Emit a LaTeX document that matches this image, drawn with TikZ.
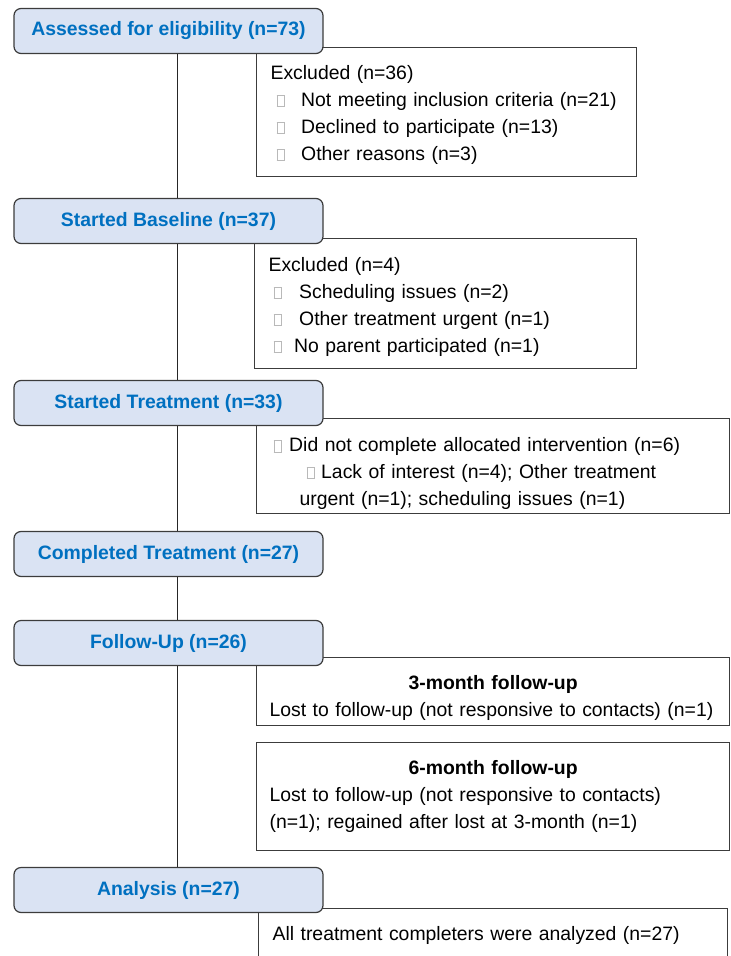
\documentclass[tikz,border=0pt]{standalone}
\usepackage{fontspec}
\setmainfont{Liberation Sans}
\usepackage{tikz}
\usetikzlibrary{arrows.meta}

\definecolor{stageblue}{RGB}{0,112,192}
\definecolor{stagefill}{RGB}{218,227,243}
\definecolor{boxline}{RGB}{60,60,60}
\newcommand{\sqmark}{{\color{gray!55}\setlength{\fboxsep}{0pt}\setlength{\fboxrule}{0.8pt}\fbox{\rule{0pt}{10.5pt}\hspace{7pt}}}}

\begin{document}
\begin{tikzpicture}[x=1pt, y=-1pt,
    stage/.style={draw=boxline, line width=1.2pt, fill=stagefill, rounded corners=7pt,
        minimum width=309pt, minimum height=45pt, inner sep=0pt,
        font=\fontsize{19.4}{24}\selectfont\bfseries, text=stageblue},
    note/.style={draw=boxline, line width=1.2pt, fill=white, anchor=north west,
        inner xsep=14pt, inner ysep=0pt, align=left,
        font=\fontsize{19.4}{26.8}\selectfont},
    link/.style={line width=1pt, black!85}]
    \useasboundingbox (0,0) rectangle (731,956);

    % 右侧说明框
    \node[note, text width=352pt, minimum height=129pt] (excl1) at (256,47) {\rule{0pt}{19.5pt}Excluded (n=36)\\
        \hspace*{6pt}\sqmark\hspace{16pt}Not meeting inclusion criteria (n=21)\\
        \hspace*{6pt}\sqmark\hspace{16pt}Declined to participate (n=13)\\
        \hspace*{6pt}\sqmark\hspace{16pt}Other reasons (n=3)};
    \node[note, text width=354pt, minimum height=130pt] (excl2) at (254,238) {\rule{0pt}{20.5pt}Excluded (n=4)\\
        \hspace*{5pt}\sqmark\hspace{17pt}Scheduling issues (n=2)\\
        \hspace*{5pt}\sqmark\hspace{17pt}Other treatment urgent (n=1)\\
        \hspace*{5pt}\sqmark\hspace{12pt}No parent participated (n=1)};
    \node[note, text width=445pt, minimum height=95pt] (dropout) at (256,418) {\rule{0pt}{28.7pt}\hspace*{3pt}\sqmark\hspace{7pt}Did not complete allocated intervention (n=6)\\
        \hspace*{36pt}\sqmark\hspace{6pt}Lack of interest (n=4); Other treatment\\
        \hspace*{29pt}urgent (n=1); scheduling issues (n=1)};
    \node[note, inner xsep=13pt, text width=447pt, minimum height=68pt] (fu3) at (256,657) {\rule{0pt}{26.9pt}\makebox[\hsize]{\bfseries 3-month follow-up}\\
        Lost to follow-up (not responsive to contacts) (n=1)};
    \node[note, inner xsep=13pt, text width=447pt, minimum height=108pt] (fu6) at (256,742) {\makebox[\hsize]{\bfseries 6-month follow-up}\\
        Lost to follow-up (not responsive to contacts)\\
        (n=1); regained after lost at 3-month (n=1)};
    \node[note, text width=441pt, inner ysep=18pt] (analyzed) at (258,908) {All treatment completers were analyzed (n=27)};

    % 左侧流程框
    \foreach \nm/\yy/\txt in {assess/31/{Assessed for eligibility (n=73)},
        baseline/221/{Started Baseline (n=37)},
        started/403/{Started Treatment (n=33)},
        completed/554/{Completed Treatment (n=27)},
        followup/643/{Follow-Up (n=26)},
        analysis/890/{Analysis (n=27)}} {
        \node[stage] (\nm) at (168.5,\yy) {\txt};
    }

    % 竖直连线
    \foreach \a/\b in {assess/baseline, baseline/started, started/completed, completed/followup, followup/analysis} {
        \draw[link] ([xshift=8.5pt]\a.south) -- ([xshift=8.5pt]\b.north);
    }
\end{tikzpicture}
\end{document}
